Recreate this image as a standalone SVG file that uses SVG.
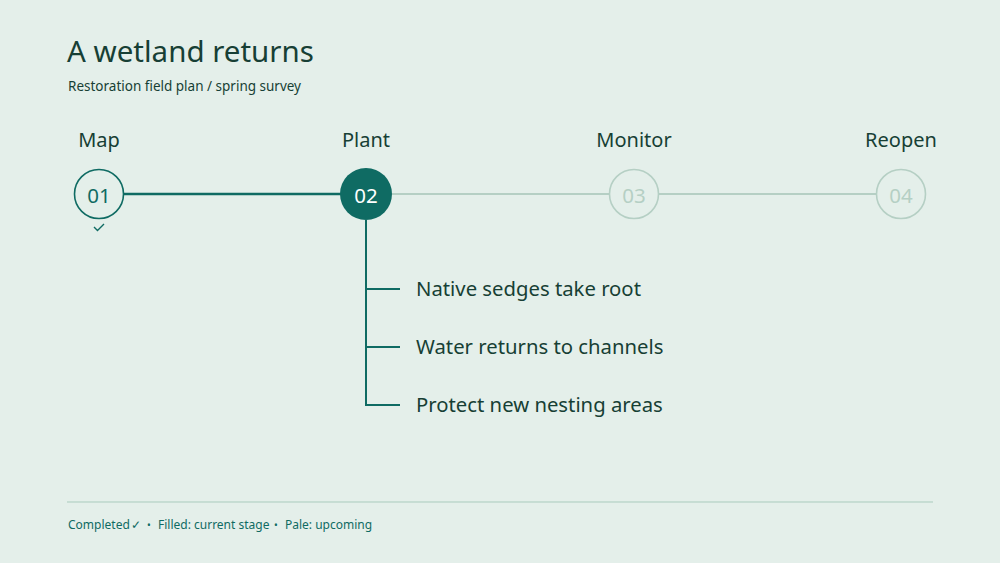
<svg xmlns="http://www.w3.org/2000/svg" width="1000" height="563" viewBox="0 0 1000 563">
<style>
text{font-family:"Noto Sans","Open Sans",sans-serif}
.title{font-size:29.5px;fill:#173f35}
.sub{font-size:13.5px;fill:#173f35}
.stage{font-size:20px;fill:#173f35;text-anchor:middle}
.num{font-size:20.5px;text-anchor:middle;dominant-baseline:central}
.item{font-size:20.3px;fill:#173f35}
.foot{font-size:12px;fill:#0f6b63}
.dot{font-size:10px}
</style>
<rect width="1000" height="563" fill="#e4efea"/>
<text class="title" x="67" y="62">A wetland returns</text>
<text class="sub" x="68" y="91">Restoration field plan / spring survey</text>
<g id="connectors" fill="none" stroke-width="2.5">
<line x1="124" y1="194" x2="341" y2="194" stroke="#0f6b63"/>
<line x1="392" y1="194" x2="609" y2="194" stroke="#b5cfc4" stroke-width="2"/>
<line x1="659" y1="194" x2="876" y2="194" stroke="#b5cfc4" stroke-width="2"/>
<path d="M366 220V405H400M366 289H400M366 347H400" stroke="#0f6b63" stroke-width="2"/>
</g>
<g id="node-01">
<text class="stage" x="99" y="147">Map</text>
<circle cx="99" cy="194" r="24.5" fill="none" stroke="#0f6b63" stroke-width="1.6"/>
<text class="num" x="99" y="195" fill="#0f6b63">01</text>
<path d="M94 227l3.5 3.5l6.5-6.5" fill="none" stroke="#0f6b63" stroke-width="1.4"/>
</g>
<g id="node-02">
<text class="stage" x="366" y="147">Plant</text>
<circle cx="366" cy="194" r="26" fill="#0f6b63"/>
<text class="num" x="366" y="195" fill="#ffffff">02</text>
</g>
<g id="node-03">
<text class="stage" x="634" y="147">Monitor</text>
<circle cx="634" cy="194" r="24.5" fill="none" stroke="#b5cfc4" stroke-width="1.6"/>
<text class="num" x="634" y="195" fill="#b5cfc4">03</text>
</g>
<g id="node-04">
<text class="stage" x="901" y="147">Reopen</text>
<circle cx="901" cy="194" r="24.5" fill="none" stroke="#b5cfc4" stroke-width="1.6"/>
<text class="num" x="901" y="195" fill="#b5cfc4">04</text>
</g>
<g id="items">
<text class="item" x="416" y="296">Native sedges take root</text>
<text class="item" x="416" y="354">Water returns to channels</text>
<text class="item" x="416" y="412">Protect new nesting areas</text>
</g>
<line x1="67" y1="502" x2="933" y2="502" stroke="#a9cbbd" stroke-width="1"/>
<text class="foot" y="529"><tspan x="68">Completed</tspan><tspan x="130.5">✓</tspan><tspan class="dot" x="147">•</tspan><tspan x="158">Filled: current stage</tspan><tspan class="dot" x="274">•</tspan><tspan x="285">Pale: upcoming</tspan></text>
</svg>
